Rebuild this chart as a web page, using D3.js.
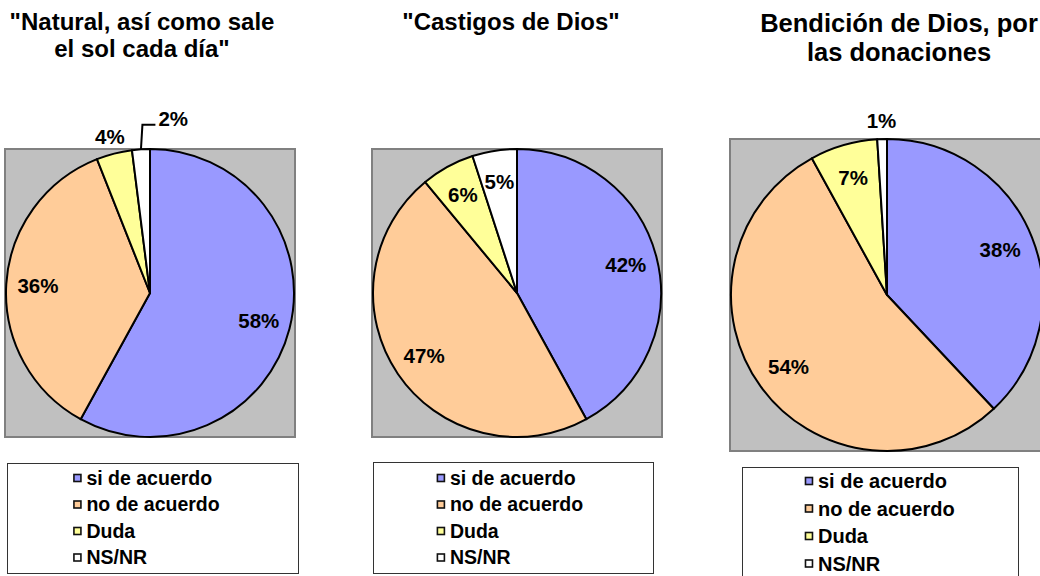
<!DOCTYPE html>
<html>
<head>
<meta charset="utf-8">
<script src="https://cdn.jsdelivr.net/npm/d3@7"></script>
<style>
  html, body { margin: 0; padding: 0; background: #ffffff; }
  svg { display: block; font-family: "Liberation Sans", Arial, sans-serif; font-weight: bold; }
</style>
</head>
<body>
<svg id="chart" width="1040" height="576"></svg>
<script>
// Answer categories shared by the three pies
const categories = ["si de acuerdo", "no de acuerdo", "Duda", "NS/NR"];
const sliceColors = ["#9999FF", "#FFCC99", "#FFFF99", "#FFFFFF"];

// Percentages per question
const valuesNatural = [58, 36, 4, 2];
const valuesCastigos = [42, 47, 6, 5];
const valuesBendicion = [38, 54, 7, 1];

// Question titles (one entry per line)
const titleNatural = ["\"Natural, así como sale", "el sol cada día\""];
const titleCastigos = ["\"Castigos de Dios\""];
const titleBendicion = ["Bendición de Dios, por", "las donaciones"];

// Panel layout
const panels = [
  { values: valuesNatural, title: titleNatural, cx: 150, cy: 293, r: 144,
    titleX: 142, titleY: 29.5, titleStep: 27.5, titleSize: 24,
    legend: { x: 7, y: 463, w: 291, h: 110, first: 478, step: 26.5, size: 19.5 } },
  { values: valuesCastigos, title: titleCastigos, cx: 517, cy: 293, r: 144,
    titleX: 511, titleY: 29.5, titleStep: 27.5, titleSize: 24,
    legend: { x: 373, y: 462, w: 280, h: 111, first: 478, step: 26.5, size: 19.5 } },
  { values: valuesBendicion, title: titleBendicion, cx: 887, cy: 295, r: 156,
    titleX: 899, titleY: 31.5, titleStep: 29, titleSize: 25.5,
    legend: { x: 742, y: 467, w: 276, h: 120, first: 481, step: 27.5, size: 20 } }
];

const svg = d3.select("#chart");
const color = d3.scaleOrdinal().domain(categories).range(sliceColors);
const pie = d3.pie().sort(null).value(d => d.value);

panels.forEach(p => {
  const g = svg.append("g");

  // Title
  const title = g.append("text")
    .attr("text-anchor", "middle")
    .attr("font-size", p.titleSize)
    .attr("fill", "#000");
  p.title.forEach((line, i) => {
    title.append("tspan").attr("x", p.titleX).attr("y", p.titleY + i * p.titleStep).text(line);
  });

  // Grey plot area
  g.append("rect")
    .attr("x", p.cx - p.r - 1).attr("y", p.cy - p.r)
    .attr("width", 2 * p.r + 2).attr("height", 2 * p.r)
    .attr("fill", "#C0C0C0").attr("stroke", "#808080").attr("stroke-width", 2);

  const data = categories.map((c, i) => ({ cat: c, value: p.values[i] }));
  const arcs = pie(data);
  const arc = d3.arc().innerRadius(0).outerRadius(p.r);
  const inner = d3.arc().innerRadius(p.r * 0.78).outerRadius(p.r * 0.78);
  const outer = d3.arc().innerRadius(p.r * 1.12).outerRadius(p.r * 1.12);

  const pg = g.append("g").attr("transform", `translate(${p.cx},${p.cy})`);
  pg.selectAll("path").data(arcs).join("path")
    .attr("d", arc)
    .attr("fill", d => color(d.data.cat))
    .attr("stroke", "#000").attr("stroke-width", 2).attr("stroke-linejoin", "round");

  // Value labels: inside for large slices, outside for small ones,
  // with a leader line when two outside labels would collide
  let prevOutside = null;
  const fs = 20.5;
  arcs.forEach(d => {
    const txt = d.data.value + "%";
    if (d.data.value >= 5) {
      const [x, y] = inner.centroid(d);
      pg.append("text").attr("x", x).attr("y", y).attr("dy", "0.35em")
        .attr("text-anchor", "middle").attr("font-size", fs).text(txt);
      return;
    }
    const [x, y] = outer.centroid(d);
    const label = pg.append("text").attr("x", x).attr("y", y).attr("dy", "0.35em")
      .attr("text-anchor", "middle").attr("font-size", fs).text(txt);
    const w = label.node().getComputedTextLength();
    if (prevOutside && x - w / 2 < prevOutside.right + 4) {
      const mid = (d.startAngle + d.endAngle) / 2;
      const x0 = Math.sin(mid) * p.r, y0 = -Math.cos(mid) * p.r;
      const ex = Math.sin(mid) * p.r * 1.17 + 3, ey = -Math.cos(mid) * p.r * 1.17;
      pg.append("path")
        .attr("d", `M${x0},${y0}L${ex},${ey}L${ex + 13},${ey}`)
        .attr("fill", "none").attr("stroke", "#000").attr("stroke-width", 2);
      label.attr("x", ex + 16).attr("y", ey + 1).attr("dy", null)
        .attr("text-anchor", "start");
    } else {
      prevOutside = { right: x + w / 2 };
    }
  });

  // Legend
  const L = p.legend;
  const lg = g.append("g");
  lg.append("rect").attr("x", L.x + 0.5).attr("y", L.y + 0.5)
    .attr("width", L.w).attr("height", L.h)
    .attr("fill", "#fff").attr("stroke", "#333").attr("stroke-width", 1);
  const mx = L.x + 0.23 * L.w;
  categories.forEach((c, i) => {
    const y = L.first + i * L.step;
    lg.append("rect").attr("x", mx).attr("y", y - 3.5).attr("width", 7).attr("height", 7)
      .attr("fill", color(c)).attr("stroke", "#111").attr("stroke-width", 1.6);
    lg.append("text").attr("x", mx + 12.5).attr("y", y).attr("dy", "0.35em")
      .attr("font-size", L.size).text(c);
  });
});
</script>
</body>
</html>
